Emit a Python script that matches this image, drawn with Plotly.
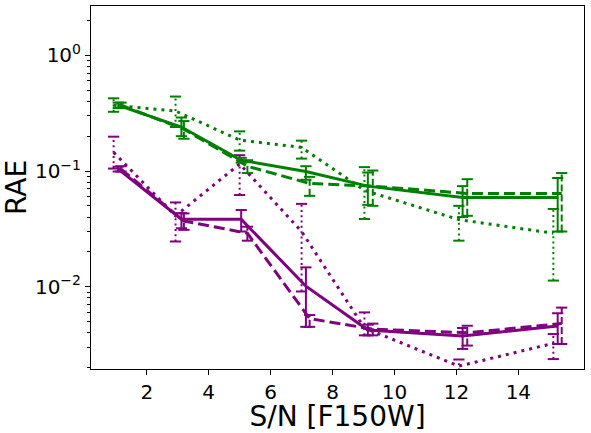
import plotly.graph_objects as go

# x positions of each style (slightly shifted so the error bars do not overlap)
x_dot = [0.93, 2.93, 5.0, 7.0, 9.03, 12.08, 15.13]
x_solid = [1.08, 3.12, 5.05, 7.14, 9.14, 12.2, 15.27]
x_dash = [1.17, 3.2, 5.25, 7.26, 9.3, 12.35, 15.4]

# green
g_solid = [0.37, 0.24, 0.124, 0.099, 0.074, 0.059, 0.059]
g_solid_lo = [0.35, 0.20, 0.118, 0.084, 0.051, 0.040, 0.030]
g_solid_hi = [0.39, 0.29, 0.130, 0.110, 0.097, 0.074, 0.087]
g_dash = [0.37, 0.23, 0.11, 0.078, 0.074, 0.064, 0.064]
g_dash_lo = [0.35, 0.19, 0.096, 0.061, 0.050, 0.041, 0.030]
g_dash_hi = [0.39, 0.27, 0.124, 0.089, 0.101, 0.085, 0.096]
g_dot = [0.37, 0.33, 0.185, 0.16, 0.068, 0.038, 0.029]
g_dot_lo = [0.325, 0.24, 0.15, 0.128, 0.0385, 0.025, 0.0113]
g_dot_hi = [0.425, 0.44, 0.22, 0.183, 0.108, 0.05, 0.047]

# purple
p_solid = [0.104, 0.0383, 0.0383, 0.0101, 0.00423, 0.00375, 0.00457]
p_solid_lo = [0.099, 0.032, 0.030, 0.0045, 0.0038, 0.0029, 0.0032]
p_solid_hi = [0.109, 0.0433, 0.046, 0.0147, 0.0047, 0.0044, 0.0059]
p_dash = [0.104, 0.037, 0.029, 0.0053, 0.0043, 0.0040, 0.0048]
p_dash_lo = [0.099, 0.031, 0.025, 0.0045, 0.0038, 0.0031, 0.0032]
p_dash_hi = [0.11, 0.043, 0.033, 0.0057, 0.0048, 0.0046, 0.0066]
p_dot = [0.145, 0.041, 0.115, 0.030, 0.0044, 0.00206, 0.00324]
p_dot_lo = [0.105, 0.0246, 0.062, 0.0091, 0.0038, 0.0017, 0.00237]
p_dot_hi = [0.198, 0.0535, 0.137, 0.052, 0.006, 0.00235, 0.0039]

x_ticks = [2, 4, 6, 8, 10, 12, 14]
y_ticks = [1e-2, 1e-1, 1]
y_ticktext = ["10<sup>\u22122</sup>", "10<sup>\u22121</sup>", "10<sup>0</sup>"]
y_minor = [m * 10 ** e for e in (-3, -2, -1, 0) for m in range(2, 10)]

GREEN = "#008000"
PURPLE = "#800080"

LINE_DASH = {"solid": "solid", "dash": "11px,5px", "dot": "3px,5px"}
ERR_DASH = {"solid": "solid", "dash": "7px,3px", "dot": "2px,3.3px"}


def add_series(fig, x, y, lo, hi, color, style):
    # vertical error segments
    ex, ey = [], []
    for xi, l, h in zip(x, lo, hi):
        ex += [xi, xi, None]
        ey += [l, h, None]
    fig.add_trace(go.Scatter(x=ex, y=ey, mode="lines", showlegend=False,
                             line=dict(color=color, width=2, dash=ERR_DASH[style]),
                             hoverinfo="skip"))
    # caps
    fig.add_trace(go.Scatter(x=list(x) + list(x), y=list(lo) + list(hi), mode="markers",
                             showlegend=False, hoverinfo="skip",
                             marker=dict(symbol="line-ew", size=8,
                                         line=dict(color=color, width=2))))
    # main line
    fig.add_trace(go.Scatter(x=x, y=y, mode="lines", showlegend=False,
                             line=dict(color=color, width=3, dash=LINE_DASH[style])))


fig = go.Figure()
add_series(fig, x_solid, p_solid, p_solid_lo, p_solid_hi, PURPLE, "solid")
add_series(fig, x_dash, p_dash, p_dash_lo, p_dash_hi, PURPLE, "dash")
add_series(fig, x_dot, p_dot, p_dot_lo, p_dot_hi, PURPLE, "dot")
add_series(fig, x_solid, g_solid, g_solid_lo, g_solid_hi, GREEN, "solid")
add_series(fig, x_dash, g_dash, g_dash_lo, g_dash_hi, GREEN, "dash")
add_series(fig, x_dot, g_dot, g_dot_lo, g_dot_hi, GREEN, "dot")

fig.update_layout(
    width=591, height=433,
    margin=dict(l=91, r=7, t=6, b=64),
    plot_bgcolor="white", paper_bgcolor="white",
    font=dict(family="DejaVu Sans", size=20, color="black"),
    showlegend=False,
)
fig.update_xaxes(
    range=[0.2, 16.12], tickvals=x_ticks, automargin=False,
    showline=True, mirror=True, linecolor="black", linewidth=1,
    ticks="outside", ticklen=5, tickcolor="black", showgrid=False, zeroline=False,
    title=dict(text="S/N [F150W]", font=dict(size=28), standoff=3),
)
fig.update_yaxes(
    type="log", range=[-2.711, 0.426], automargin=False,
    tickvals=y_ticks, ticktext=y_ticktext,
    showline=True, mirror=True, linecolor="black", linewidth=1,
    ticks="outside", ticklen=5, tickcolor="black", showgrid=False, zeroline=False,
    minor=dict(tickvals=y_minor, ticks="outside", ticklen=3, tickcolor="black"),
    title=dict(text="RAE", font=dict(size=28), standoff=20),
)

# drop the browser's default 8px body margin so the figure sits at the page corner
fig.write_html("out.html", config={"displayModeBar": False},
               post_script="document.body.style.margin='0';")
